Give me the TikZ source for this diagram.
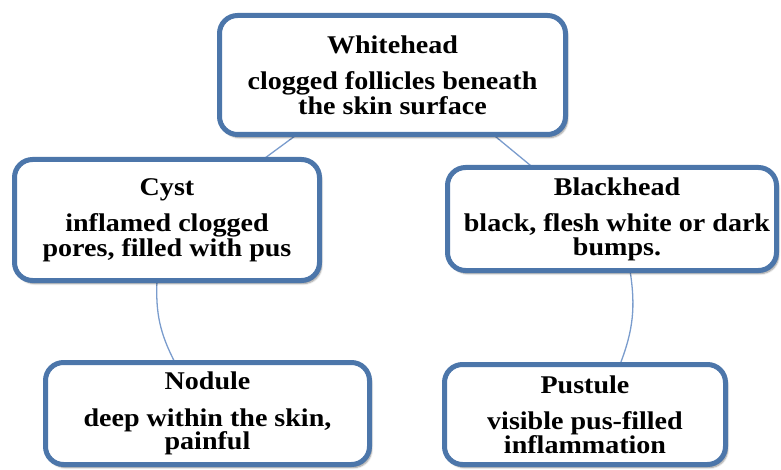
\documentclass[tikz,border=0pt]{standalone}
\usepackage{fontspec}
\setmainfont{Liberation Serif}[FakeStretch=1.1]
\usetikzlibrary{shadows.blur,backgrounds}
\definecolor{boxborder}{RGB}{76,118,170}
\definecolor{linkblue}{RGB}{122,156,205}
\tikzset{
  acnebox/.style={draw=boxborder, line width=5pt, fill=white, rounded corners=18pt,
    inner sep=0pt, outer sep=0pt, align=center,
    font=\bfseries\fontsize{25.5}{23.5}\selectfont,
    blur shadow={shadow xshift=2pt, shadow yshift=-3pt, shadow blur steps=6, shadow opacity=45}},
  link/.style={draw=linkblue, line width=1.3pt}
}
\begin{document}
\begin{tikzpicture}[x=1pt,y=-1pt]
\useasboundingbox (0,0) rectangle (781,470);
\node[acnebox, minimum width=346pt, minimum height=119pt] (wh) at (392.5,75)
  {Whitehead\\[13pt]clogged follicles beneath\\the skin surface};
\node[acnebox, minimum width=305pt, minimum height=121pt] (cy) at (167,220)
  {Cyst\\[13pt]inflamed clogged\\pores, filled with pus};
\node[acnebox, minimum width=329pt, minimum height=103pt] (bh) at (612,219)
  {\hspace*{10pt}Blackhead\\[13pt]\hspace*{10pt}black, flesh white or dark\\\hspace*{10pt}bumps.};
\node[acnebox, minimum width=324pt, minimum height=102pt] (no) at (207.5,413.5)
  {Nodule\\[13pt]deep within the skin,\\painful};
\node[acnebox, minimum width=281pt, minimum height=100pt] (pu) at (585,414.5)
  {Pustule\\[13pt]visible pus-filled\\inflammation};
\begin{scope}[on background layer]
\draw[link] ([xshift=-95.5pt]wh.south) -- ([xshift=96pt]cy.north);
\draw[link] ([xshift=100.5pt]wh.south) -- ([xshift=-79pt]bh.north);
\draw[link] ([xshift=-10pt]cy.south) to[bend right=15] ([xshift=-32.5pt]no.north);
\draw[link] ([xshift=18pt]bh.south) to[bend left=15] ([xshift=35pt]pu.north);
\end{scope}
\end{tikzpicture}
\end{document}
